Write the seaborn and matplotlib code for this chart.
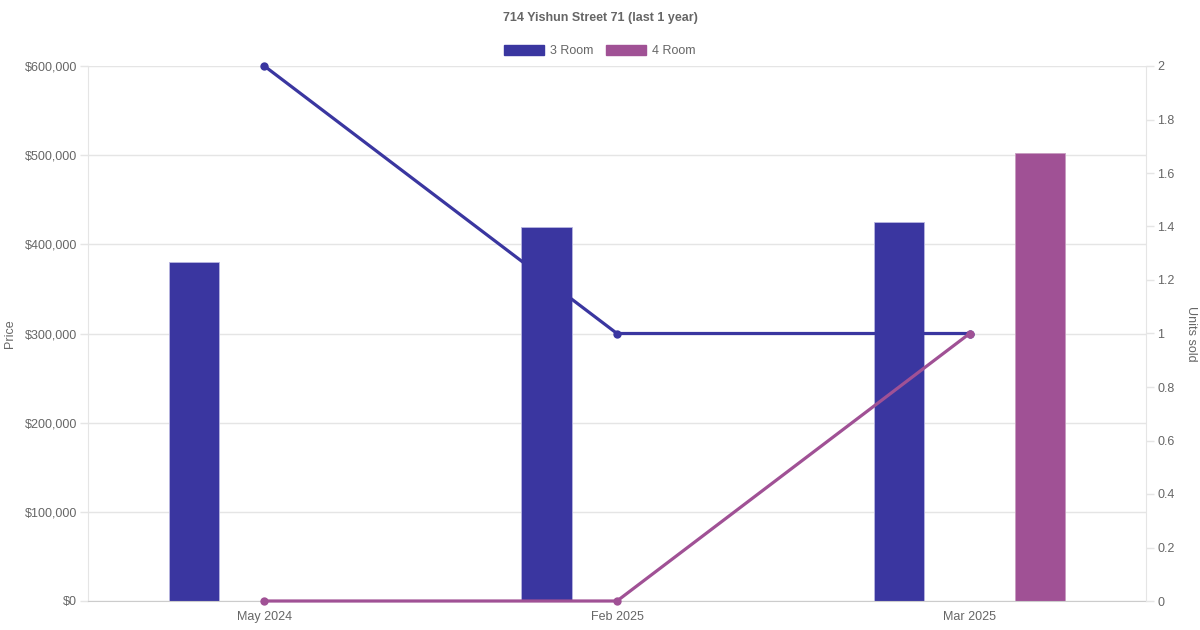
import pandas as pd
import seaborn as sns
import matplotlib.pyplot as plt
from matplotlib.patches import Patch
from matplotlib.ticker import FuncFormatter, MultipleLocator

# dados do gráfico
months = ["May 2024", "Feb 2025", "Mar 2025"]
flat_types = ["3 Room", "4 Room"]
price_3room = [380000, 420000, 425000]
price_4room = [None, None, 502000]
units_3room = [2, 1, 1]
units_4room = [0, 0, 1]
colors = {"3 Room": "#3a36a0", "4 Room": "#a05195"}

price_df = pd.DataFrame({
    "month": months * 2,
    "type": ["3 Room"] * 3 + ["4 Room"] * 3,
    "price": price_3room + price_4room,
})
units_df = pd.DataFrame({
    "pos": list(range(len(months))) * 2,
    "type": ["3 Room"] * 3 + ["4 Room"] * 3,
    "units": units_3room + units_4room,
})

sns.set_style("white")
plt.rcParams["font.family"] = ["Liberation Sans", "DejaVu Sans"]
text_col = "#666666"
grid_col = "#e5e5e5"

fig = plt.figure(figsize=(12, 6.3), dpi=100)
ax = fig.add_axes([88 / 1200, 29 / 630, 1058 / 1200, 535 / 630])

sns.barplot(data=price_df, x="month", y="price", hue="type", order=months,
            hue_order=flat_types, palette=colors, gap=0.645, width=0.8,
            saturation=1, edgecolor="#b8b6e0", linewidth=0.6, legend=False, ax=ax)
for p in ax.patches:
    if p.get_facecolor()[0] > 0.5:
        p.set_edgecolor("#c79cc0")

ax.set_xlim(-0.5, 2.5)
ax.set_ylim(0, 600000)
ax.yaxis.set_major_locator(MultipleLocator(100000))
ax.yaxis.set_major_formatter(FuncFormatter(lambda v, _: f"${v:,.0f}"))
ax.grid(axis="y", color=grid_col, linewidth=1)
ax.set_axisbelow(True)
ax.set_xlabel("")
ax.set_ylabel("Price", color=text_col, fontsize=9, labelpad=6)
ax.tick_params(axis="y", colors=grid_col, labelcolor=text_col, labelsize=9, length=6, width=1, pad=2)
ax.tick_params(axis="x", length=0, labelcolor=text_col, labelsize=9, pad=7)
for s in ["top", "right"]:
    ax.spines[s].set_visible(False)
ax.spines["left"].set_color(grid_col)
ax.spines["bottom"].set_color("#cccccc")

ax2 = ax.twinx()
sns.lineplot(data=units_df, x="pos", y="units", hue="type", hue_order=flat_types,
             palette=colors, marker="o", markersize=6, markeredgewidth=0,
             linewidth=2.3, legend=False, clip_on=False, ax=ax2)
ax2.set_ylim(0, 2)
ax2.set_xlim(-0.5, 2.5)
ax2.yaxis.set_major_locator(MultipleLocator(0.2))
ax2.yaxis.set_major_formatter(FuncFormatter(lambda v, _: f"{round(v, 1):g}"))
ax2.set_ylabel("Units sold", color=text_col, fontsize=9, rotation=270, labelpad=16)
ax2.tick_params(axis="y", colors=grid_col, labelcolor=text_col, labelsize=9, length=6, width=1, pad=2)
for s in ["top", "left", "bottom"]:
    ax2.spines[s].set_visible(False)
ax2.spines["right"].set_color(grid_col)

fig.text(0.5, 1 - 18 / 630, "714 Yishun Street 71 (last 1 year)", ha="center", va="center",
         fontsize=9, fontweight="bold", color=text_col)

handles = [Patch(facecolor=colors[t], edgecolor=colors[t], label=t) for t in flat_types]
leg = fig.legend(handles=handles, loc="center", bbox_to_anchor=(0.5, 1 - 51 / 630), ncol=2,
                 frameon=False, fontsize=9, handlelength=3.2, handleheight=0.9,
                 handletextpad=0.5, columnspacing=1.0)
for t in leg.get_texts():
    t.set_color(text_col)

plt.savefig("out.png", dpi=100)
